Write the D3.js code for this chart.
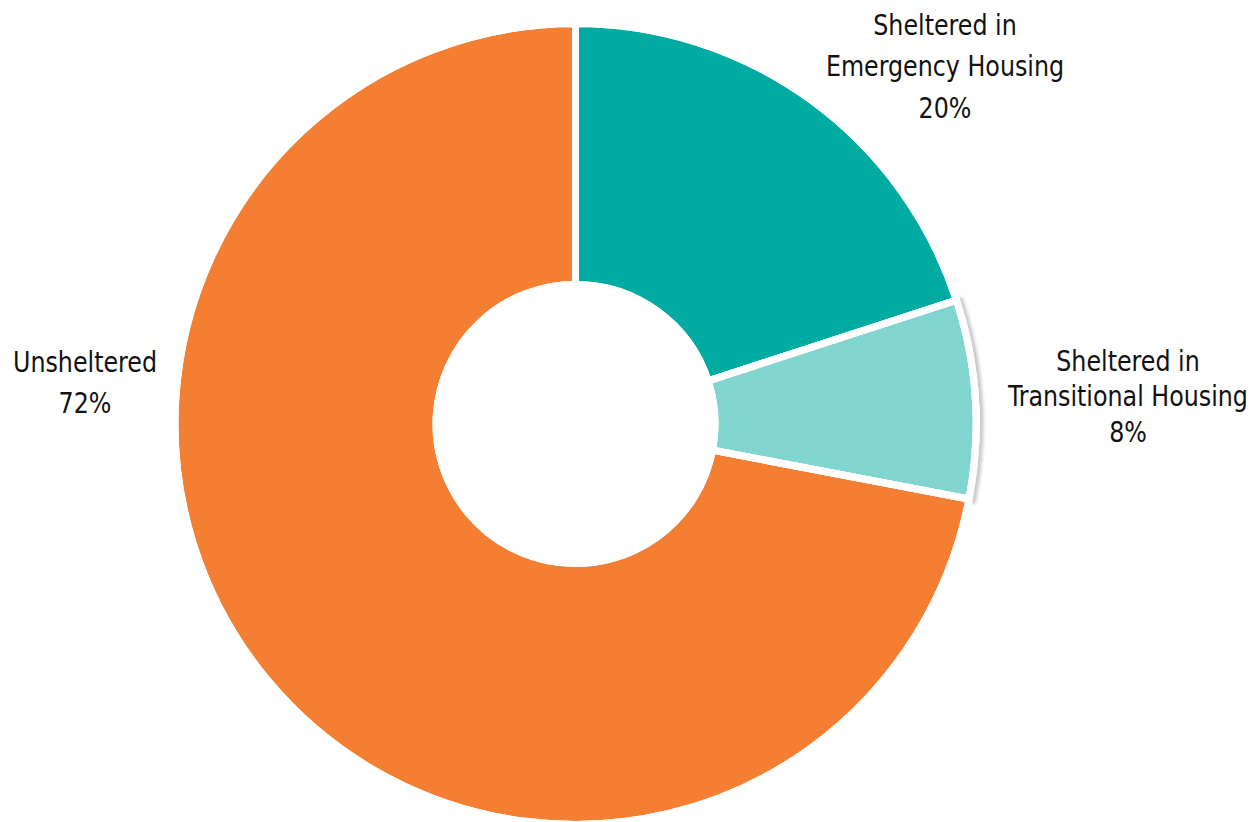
<!DOCTYPE html>
<html><head><meta charset="utf-8">
<script src="https://cdn.jsdelivr.net/npm/d3@7"></script>
<style>
html,body{margin:0;padding:0;background:#fff;}
svg{display:block;}
text{font-family:"DejaVu Sans Condensed","Liberation Sans Narrow",sans-serif;fill:#111;}
</style></head>
<body>
<svg id="chart" width="1253" height="822"></svg>
<script>
const categories = ["Sheltered in Emergency Housing", "Sheltered in Transitional Housing", "Unsheltered"];
const values = [20, 8, 72];
const labelLines = [["Sheltered in", "Emergency Housing", "20%"], ["Sheltered in", "Transitional Housing", "8%"], ["Unsheltered", "72%"]];
const colors = ["#00ABA2", "#80D6CF", "#F47F32"];

const svg = d3.select("#chart");
const cx = 575.5, cy = 424, rOuter = 400.5, rInner = 139.5;

const defs = svg.append("defs");
const f = defs.append("filter").attr("id","shadow").attr("x","-20%").attr("y","-20%").attr("width","140%").attr("height","140%");
f.append("feDropShadow").attr("dx",4).attr("dy",1).attr("stdDeviation",1.5).attr("flood-color","#000").attr("flood-opacity",0.2);

const data = categories.map((c,i)=>({cat:c, value:values[i], lines:labelLines[i], color:colors[i]}));
const pie = d3.pie().value(d=>d.value).sort(null);
const arc = d3.arc().innerRadius(rInner).outerRadius(rOuter);
const arcs = pie(data);

const g = svg.append("g").attr("transform",`translate(${cx},${cy})`);
g.selectAll("path").data(arcs).join("path")
  .attr("d", arc)
  .attr("fill", d=>d.data.color)
  .attr("stroke","#fff").attr("stroke-width",7)
  .attr("filter", (d,i)=> i===1 ? "url(#shadow)" : null);
g.selectAll("path.sep").data(arcs).join("path").attr("class","sep")
  .attr("d", arc).attr("fill","none").attr("stroke","#fff").attr("stroke-width",7);

// label positions (x center, first baseline, line spacing)
const labelPos = [[945, 35, 41.5], [1128, 371, 35.5], [85, 372, 41]];
const fontSize = 28;
const texts = [];
data.forEach((d,i)=>{
  const [x,y,lh] = labelPos[i];
  const t = svg.append("text").attr("text-anchor","middle").attr("font-size",fontSize);
  d.lines.forEach((ln,j)=>{
    t.append("tspan").attr("x",0).attr("y",y+j*lh).text(ln);
  });
  texts.push({t, x});
});
const probe = svg.append("text").attr("font-size",fontSize).text("Transitional Housing");
const w = probe.node().getComputedTextLength();
probe.remove();
const sx = 240 / w;
texts.forEach(({t,x})=> t.attr("transform",`translate(${x},0) scale(${sx},1)`));
</script>
</body></html>
